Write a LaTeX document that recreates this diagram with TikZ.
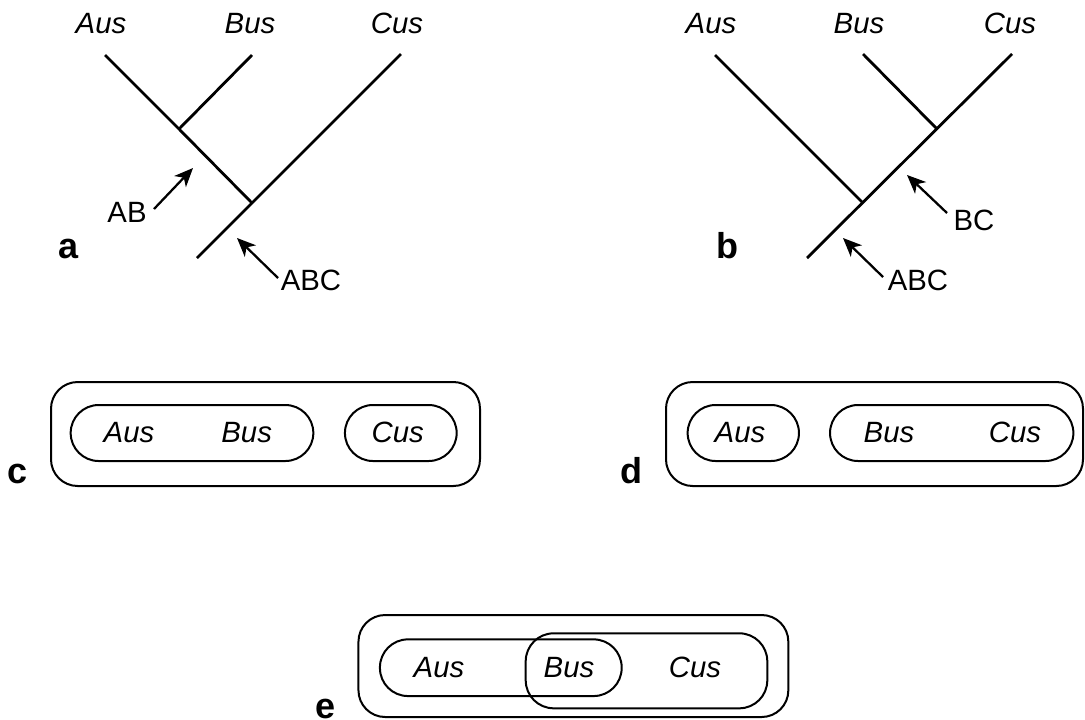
\documentclass[tikz,border=0pt]{standalone}
\usepackage{fontspec}
\setmainfont{Liberation Sans}
\usetikzlibrary{arrows.meta}
\begin{document}
\begin{tikzpicture}[x=0.75pt,y=-0.75pt,
  branch/.style={line width=2.1pt},
  pointer/.style={line width=1.7pt,-{Stealth[length=14pt,width=12pt,inset=4pt]}},
  taxon/.style={font=\fontsize{22}{26}\selectfont\itshape, inner sep=0pt, anchor=base},
  clade/.style={font=\fontsize{22}{26}\selectfont, inner sep=0pt, anchor=base},
  panel/.style={font=\fontsize{27}{32}\selectfont\bfseries, inner sep=0pt, anchor=base},
  outerbox/.style={draw, line width=1.5pt, rounded corners=20pt, inner sep=0pt, minimum height=78pt},
  innerbox/.style={draw, line width=1.5pt, rounded corners=21pt, inner sep=0pt, minimum height=42pt}
]
\useasboundingbox (0,0) rectangle (1085,719);

% ---------- tree a ----------
\coordinate (aA) at (105,55);
\coordinate (aB) at (252,55);
\coordinate (aC) at (401,54);
\coordinate (aAB) at (179,129);
\coordinate (aABC) at (252,203);
\coordinate (aR) at (197,258);
\draw[branch] (aA) -- (aAB) -- (aABC);
\draw[branch] (aB) -- (aAB);
\draw[branch] (aC) -- (aR);
\node[taxon] (aAus) at (101,33) {Aus};
\node[taxon] (aBus) at (250,33) {Bus};
\node[taxon] (aCus) at (397,33) {Cus};
\node[clade] (aABl) at (127,222) {AB};
\node[clade] (aABCl) at (311,290) {ABC};
\coordinate (p1s) at (154,209); \coordinate (p1e) at (193,168);
\coordinate (p2s) at (278,278); \coordinate (p2e) at (237,238);
\draw[pointer] (p1s) -- (p1e);
\draw[pointer] (p2s) -- (p2e);
\node[panel] (la) at (69,258) {a};

% ---------- tree b ----------
\coordinate (bA) at (715,55);
\coordinate (bB) at (863,54);
\coordinate (bC) at (1012,54);
\coordinate (bBC) at (937,129);
\coordinate (bABC) at (863,203);
\coordinate (bR) at (807,258);
\draw[branch] (bA) -- (bABC);
\draw[branch] (bB) -- (bBC);
\draw[branch] (bC) -- (bR);
\node[taxon] (bAus) at (711,33) {Aus};
\node[taxon] (bBus) at (859,33) {Bus};
\node[taxon] (bCus) at (1010,33) {Cus};
\node[clade] (bBCl) at (974,230) {BC};
\node[clade] (bABCl) at (918,290) {ABC};
\coordinate (p3s) at (947,213); \coordinate (p3e) at (907,175);
\coordinate (p4s) at (883,277); \coordinate (p4e) at (843,238);
\draw[pointer] (p3s) -- (p3e);
\draw[pointer] (p4s) -- (p4e);
\node[panel] (lb) at (727,258) {b};

% ---------- panel c ----------
\node[outerbox, minimum width=321.75pt] (cOut) at (265.5,434) {};
\node[innerbox, minimum width=182pt] (cAB) at (192,433) {};
\node[innerbox, minimum width=83.8pt] (cC) at (400.8,433) {};
\node[taxon] (cAus) at (129,442) {Aus};
\node[taxon] (cBus) at (246.7,442) {Bus};
\node[taxon] (cCus) at (397.7,442) {Cus};
\node[panel] (lc) at (18,483) {c};

% ---------- panel d ----------
\node[outerbox, minimum width=312.75pt] (dOut) at (874.5,434) {};
\node[innerbox, minimum width=83.5pt] (dA) at (743.3,433) {};
\node[innerbox, minimum width=182.5pt] (dBC) at (951.7,433) {};
\node[taxon] (dAus) at (740,442) {Aus};
\node[taxon] (dBus) at (889,442) {Bus};
\node[taxon] (dCus) at (1015,442) {Cus};
\node[panel] (ld) at (631,483) {d};

% ---------- panel e ----------
\node[outerbox, minimum width=322.4pt, minimum height=76.5pt] (eOut) at (573.4,666) {};
\node[innerbox, minimum width=181.3pt, minimum height=42.5pt] (eAB) at (500.8,667.7) {};
\node[innerbox, minimum width=181.2pt, minimum height=56.25pt] (eBC) at (646.5,670.8) {};
\node[taxon] (eAus) at (439,677) {Aus};
\node[taxon] (eBus) at (569,677) {Bus};
\node[taxon] (eCus) at (695,677) {Cus};
\node[panel] (le) at (325.5,718) {e};
\end{tikzpicture}
\end{document}
